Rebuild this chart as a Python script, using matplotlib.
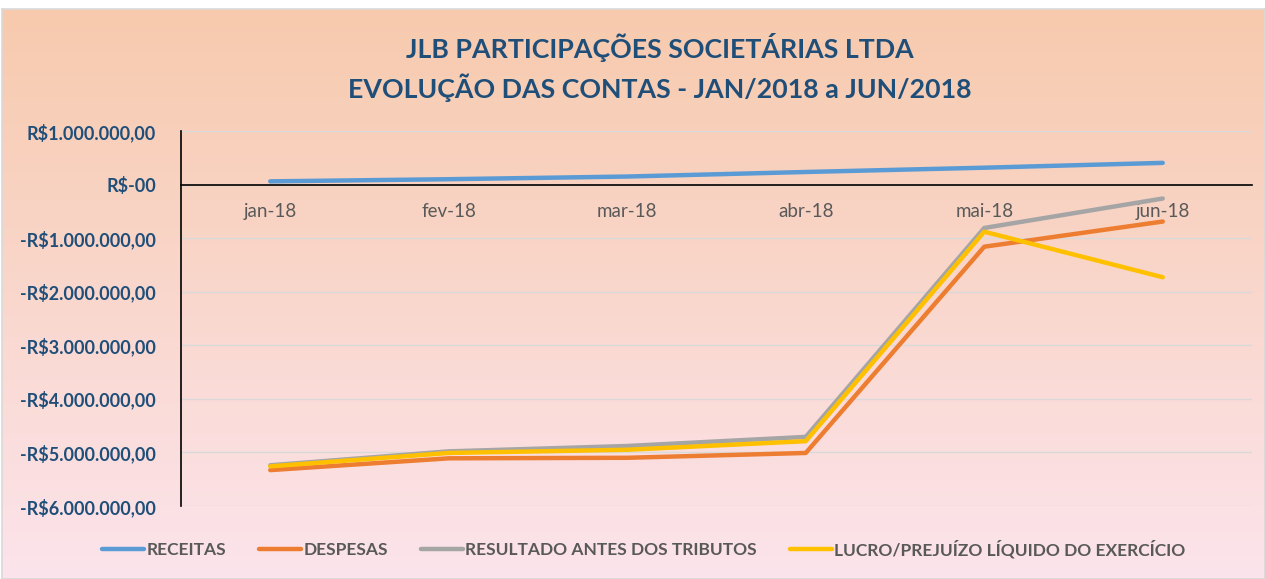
import matplotlib
matplotlib.use("Agg")
import matplotlib.pyplot as plt
import numpy as np
from matplotlib.ticker import FuncFormatter, FixedLocator
from matplotlib.colors import LinearSegmentedColormap

plt.rcParams['font.family'] = ['Lato', 'DejaVu Sans']

categories = ["jan-18", "fev-18", "mar-18", "abr-18", "mai-18", "jun-18"]
receitas = [60000, 100000, 150000, 235000, 315000, 405000]
despesas = [-5330000, -5110000, -5100000, -5010000, -1160000, -690000]
resultado = [-5240000, -4980000, -4880000, -4710000, -810000, -260000]
lucro = [-5260000, -5010000, -4950000, -4790000, -880000, -1730000]

series_names = ["RECEITAS", "DESPESAS", "RESULTADO ANTES DOS TRIBUTOS",
                "LUCRO/PREJUÍZO LÍQUIDO DO EXERCÍCIO"]
series_colors = ["#5B9BD5", "#ED7D31", "#A5A5A5", "#FFC000"]
yticks = [1000000, 0, -1000000, -2000000, -3000000, -4000000, -5000000, -6000000]

title_lines = ["JLB PARTICIPAÇÕES SOCIETÁRIAS LTDA",
               "EVOLUÇÃO DAS CONTAS - JAN/2018 a JUN/2018"]

W, H = 1265, 579
fig = plt.figure(figsize=(W / 100, H / 100), dpi=100)
fig.patch.set_facecolor("white")

# background gradient panel
bg = fig.add_axes([2 / W, 0, 1 - 2 / W, 1 - 9 / H])
cmap = LinearSegmentedColormap.from_list("bg", ["#F7CAAD", "#FCE4EC"])
grad = np.linspace(0, 1, 256).reshape(-1, 1)
bg.imshow(grad, aspect="auto", cmap=cmap, extent=[0, 1, 0, 1], origin="upper")
bg.set_xticks([]); bg.set_yticks([])
for s in bg.spines.values():
    s.set_color("#D9D9D9"); s.set_linewidth(1.2)
bg.set_zorder(0)

ax = fig.add_axes([181 / W, 1 - 506 / H, (1252 - 181) / W, (506 - 131) / H])
ax.set_facecolor("none")
ax.set_zorder(1)

x = np.arange(len(categories)) + 0.5
all_series = [receitas, despesas, resultado, lucro]
for vals, name, col in zip(all_series, series_names, series_colors):
    ax.plot(x, vals, color=col, lw=3.2, label=name, solid_capstyle="round",
            solid_joinstyle="round")

ax.set_xlim(0, len(categories))
ax.set_ylim(-6000000, 1000000)


def fmt(v, pos):
    v = int(round(v))
    if v == 0:
        return "R$-00"
    s = f"{abs(v):,}".replace(",", ".") + ",00"
    return ("-R$" if v < 0 else "R$") + s


ax.yaxis.set_major_locator(FixedLocator(yticks))
ax.yaxis.set_major_formatter(FuncFormatter(fmt))
ax.tick_params(axis="y", length=0, pad=18, labelsize=13, labelcolor="#1F4E79")
for lab in ax.get_yticklabels():
    lab.set_fontweight("bold")
ax.yaxis.grid(True, color="#D9D9D9", lw=1)
ax.set_axisbelow(True)

ax.set_xticks(x)
ax.set_xticklabels(categories)
ax.tick_params(axis="x", length=0, pad=13, labelsize=13.5, labelcolor="#595959")
ax.spines["bottom"].set_position(("data", 0))
ax.spines["bottom"].set_color("black")
ax.spines["bottom"].set_linewidth(1.2)
ax.spines["left"].set_color("black")
ax.spines["left"].set_linewidth(1.2)
ax.spines["top"].set_visible(False)
ax.spines["right"].set_visible(False)

fig.text(0.5215, 1 - 48 / H, title_lines[0], ha="center", va="center",
         fontsize=19.3, fontweight="bold", color="#1F4E79")
fig.text(0.5215, 1 - 88 / H, title_lines[1], ha="center", va="center",
         fontsize=19.3, fontweight="bold", color="#1F4E79")

leg = fig.legend(loc="center", bbox_to_anchor=(0.509, 1 - 549 / H), ncol=4,
                 frameon=False, handlelength=2.4, handletextpad=0.15,
                 columnspacing=1.9, fontsize=12.5)
for t in leg.get_texts():
    t.set_color("#595959"); t.set_fontweight("bold")
for l in leg.get_lines():
    l.set_linewidth(3.2)

fig.savefig("out.png", dpi=100)
